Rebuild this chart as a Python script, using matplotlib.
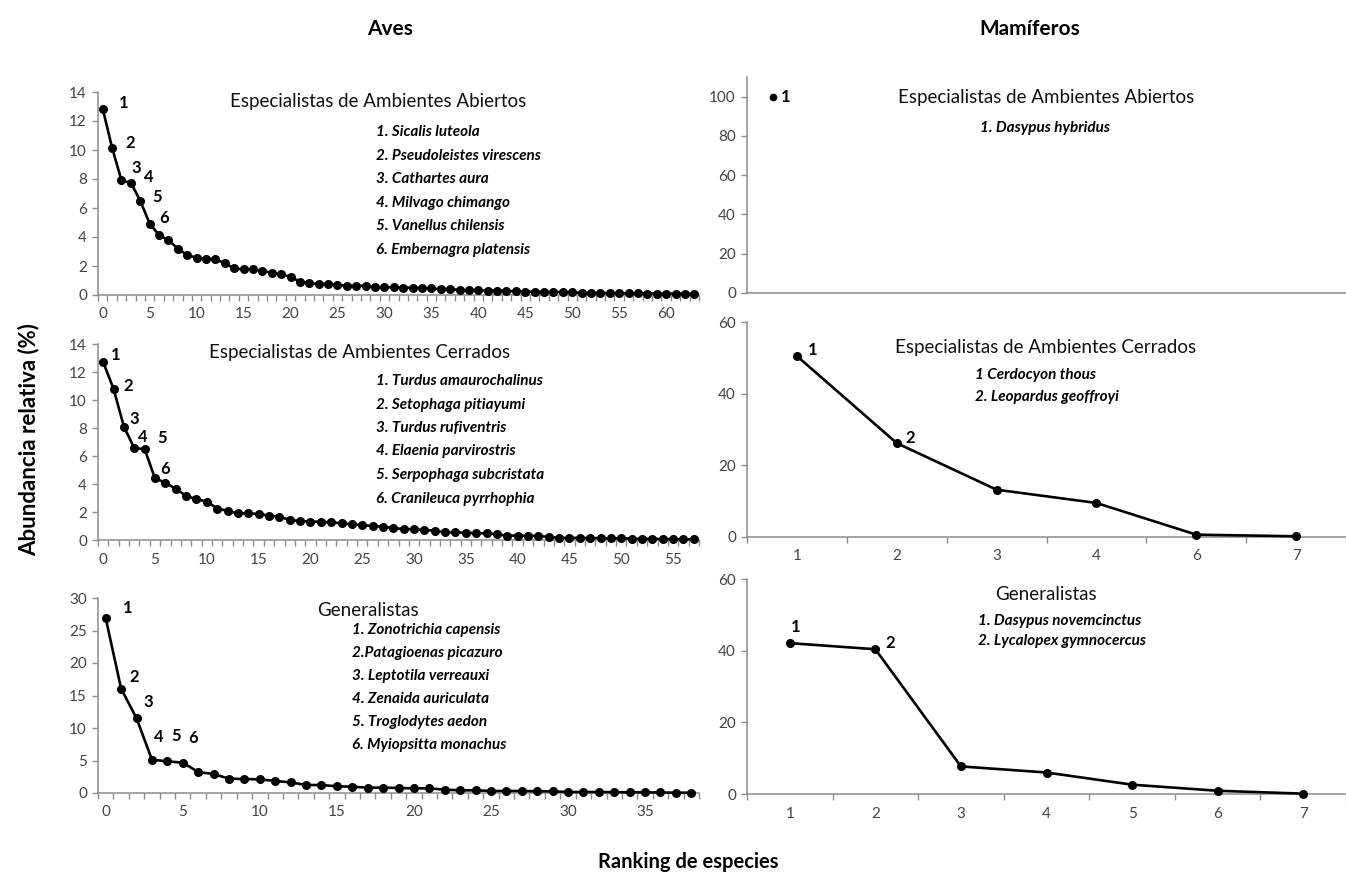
import matplotlib.pyplot as plt
import numpy as np

plt.rcParams['font.family'] = ['Lato', 'DejaVu Sans']

W, H = 1346, 882

# ── data ──────────────────────────────────────────────────────────────────────
aves_abiertos = [12.85, 10.16, 7.9, 7.73, 6.5, 4.93, 4.13, 3.78, 3.2, 2.75,
                 2.57, 2.48, 2.48, 2.18, 1.83, 1.77, 1.77, 1.65, 1.54, 1.42,
                 1.26, 0.92, 0.8, 0.76, 0.76, 0.69, 0.64, 0.64, 0.64, 0.53,
                 0.53, 0.53, 0.5, 0.5, 0.48, 0.45, 0.41, 0.41, 0.35, 0.34,
                 0.33, 0.3, 0.3, 0.27, 0.25, 0.24, 0.22, 0.22, 0.22, 0.2,
                 0.18, 0.15, 0.14, 0.13, 0.13, 0.12, 0.12, 0.11, 0.1, 0.1,
                 0.1, 0.09, 0.09, 0.08]
aves_cerrados = [12.7, 10.8, 8.1, 6.56, 6.5, 4.4, 4.1, 3.65, 3.17, 2.9,
                 2.75, 2.25, 2.08, 1.9, 1.9, 1.86, 1.74, 1.67, 1.43, 1.36,
                 1.31, 1.31, 1.26, 1.19, 1.12, 1.07, 1.0, 0.95, 0.84, 0.79,
                 0.76, 0.72, 0.67, 0.55, 0.55, 0.52, 0.48, 0.48, 0.41, 0.31,
                 0.31, 0.29, 0.29, 0.22, 0.15, 0.15, 0.15, 0.14, 0.13, 0.12,
                 0.12, 0.1, 0.08, 0.08, 0.07, 0.06, 0.05, 0.05]
aves_generalistas = [26.9, 16.05, 11.5, 5.13, 4.87, 4.67, 3.23, 2.92, 2.2, 2.15,
                     2.1, 1.85, 1.64, 1.23, 1.23, 1.03, 0.97, 0.82, 0.82, 0.77,
                     0.72, 0.72, 0.51, 0.41, 0.41, 0.31, 0.31, 0.31, 0.26, 0.26,
                     0.15, 0.15, 0.15, 0.12, 0.1, 0.1, 0.08, 0.05, 0.05]

mam_abiertos_x = [1]
mam_abiertos = [100]
mam_cerrados_cats = ['1', '2', '3', '4', '6', '7']
mam_cerrados = [50.5, 26.2, 13.2, 9.5, 0.65, 0.2]
mam_gen_cats = ['1', '2', '3', '4', '5', '6', '7']
mam_generalistas = [42.1, 40.4, 7.7, 6.0, 2.6, 0.9, 0.1]

sp_aves_abiertos = ['1. Sicalis luteola', '2. Pseudoleistes virescens', '3. Cathartes aura',
                    '4. Milvago chimango', '5. Vanellus chilensis', '6. Embernagra platensis']
sp_aves_cerrados = ['1. Turdus amaurochalinus', '2. Setophaga pitiayumi', '3. Turdus rufiventris',
                    '4. Elaenia parvirostris', '5. Serpophaga subcristata', '6. Cranileuca pyrrhophia']
sp_aves_gen = ['1. Zonotrichia capensis', '2.Patagioenas picazuro', '3. Leptotila verreauxi',
               '4. Zenaida auriculata', '5. Troglodytes aedon', '6. Myiopsitta monachus']
sp_mam_abiertos = ['1. Dasypus hybridus']
sp_mam_cerrados = ['1 Cerdocyon thous', '2. Leopardus geoffroyi']
sp_mam_gen = ['1. Dasypus novemcinctus', '2. Lycalopex gymnocercus']

GRAY = '#8c8c8c'
TXT = '#444444'


def box(l, t, r, b):
    return [l / W, 1 - b / H, (r - l) / W, (b - t) / H]


def put(x, y, s, **kw):
    fig.text(x / W, 1 - y / H, s, **kw)


def style(ax):
    ax.set_facecolor('none')
    for s in ['top', 'right']:
        ax.spines[s].set_visible(False)
    for s in ['left', 'bottom']:
        ax.spines[s].set_color(GRAY)
        ax.spines[s].set_linewidth(1.1)
    ax.tick_params(axis='y', direction='out', length=4, width=1, color=GRAY,
                   labelcolor=TXT, labelsize=11, pad=4)
    ax.tick_params(axis='x', which='major', length=0, labelcolor=TXT, labelsize=11, pad=9)
    ax.tick_params(axis='x', which='minor', direction='out', length=4, width=1, color=GRAY)


def rank_panel(ax, vals, ymax, ystep):
    n = len(vals)
    x = np.arange(n)
    ax.plot(x, vals, color='black', lw=1.9, marker='o', ms=5.5, clip_on=False, zorder=3)
    ax.set_xlim(-0.5, n - 0.5)
    ax.set_ylim(0, ymax)
    ax.set_yticks(np.arange(0, ymax + 0.01, ystep))
    ax.set_xticks(np.arange(0, n, 5))
    ax.set_xticks(np.arange(-0.5, n, 1), minor=True)
    style(ax)
    return x


def cat_panel(ax, cats, vals):
    x = np.arange(len(cats))
    ax.plot(x, vals, color='black', lw=1.9, marker='o', ms=5.5, clip_on=False, zorder=3)
    ax.set_xlim(-0.5, len(cats) - 0.5)
    ax.set_ylim(0, 60)
    ax.set_yticks([0, 20, 40, 60])
    ax.set_xticks(x)
    ax.set_xticklabels(cats)
    ax.set_xticks(np.arange(-0.5, len(cats), 1), minor=True)
    style(ax)
    return x


def numbers(ax, x, vals, offsets):
    for i, (dx, dy) in enumerate(offsets):
        ax.annotate(str(i + 1), (x[i], vals[i]), xytext=(dx, dy), textcoords='offset pixels',
                    ha='center', va='center', fontsize=12, fontweight='bold', color='black')


def species(x, y0, names, step):
    for i, s in enumerate(names):
        put(x, y0 + i * step, s, fontsize=11, fontweight='bold', fontstyle='italic',
            va='center', ha='left', color='black')


fig = plt.figure(figsize=(W / 100, H / 100), dpi=100)

# ── Aves ──────────────────────────────────────────────────────────────────────
ax1 = fig.add_axes(box(98, 92, 699, 295))
x1 = rank_panel(ax1, aves_abiertos, 14, 2)
numbers(ax1, x1, aves_abiertos, [(21, 6), (18, 5), (15, 12), (18, 6), (17, 4), (14, 6)])

ax2 = fig.add_axes(box(98, 344, 699, 540))
x2 = rank_panel(ax2, aves_cerrados, 14, 2)
numbers(ax2, x2, aves_cerrados, [(12, 7), (15, 3), (10, 8), (9, 11), (17, 11), (10, 9)])

ax3 = fig.add_axes(box(98, 598, 699, 793))
x3 = rank_panel(ax3, aves_generalistas, 30, 5)
numbers(ax3, x3, aves_generalistas, [(22, 10), (13, 12), (12, 16), (7, 23), (9, 25), (10, 25)])

# ── Mamíferos ─────────────────────────────────────────────────────────────────
ax4 = fig.add_axes(box(747, 77, 1346, 293))
ax4.plot(mam_abiertos_x, mam_abiertos, color='black', marker='o', ms=4.5, lw=0, zorder=3)
ax4.set_xlim(0, 23)
ax4.set_ylim(0, 110)
ax4.set_yticks(np.arange(0, 101, 20))
ax4.set_xticks([])
style(ax4)
ax4.annotate('1', (mam_abiertos_x[0], mam_abiertos[0]), xytext=(13, 0), textcoords='offset pixels',
             ha='center', va='center', fontsize=12, fontweight='bold')

ax5 = fig.add_axes(box(747, 322, 1346, 537))
x5 = cat_panel(ax5, mam_cerrados_cats, mam_cerrados)
numbers(ax5, x5, mam_cerrados, [(16, 6), (13, 5)])

ax6 = fig.add_axes(box(747, 579, 1346, 794))
x6 = cat_panel(ax6, mam_gen_cats, mam_generalistas)
numbers(ax6, x6, mam_generalistas, [(6, 16), (15, 6)])

# ── panel titles and species lists ────────────────────────────────────────────
title_kw = dict(fontsize=13.5, ha='center', va='center', color='#111111')
put(378, 101, 'Especialistas de Ambientes Abiertos', **title_kw)
species(376, 132, sp_aves_abiertos, 23.5)
put(360, 352, 'Especialistas de Ambientes Cerrados', **title_kw)
species(376, 381, sp_aves_cerrados, 23.5)
put(368, 611, 'Generalistas', **title_kw)
species(352, 630, sp_aves_gen, 23)

put(1046, 98, 'Especialistas de Ambientes Abiertos', **title_kw)
put(1045, 128, sp_mam_abiertos[0], fontsize=11, fontweight='bold', fontstyle='italic',
    ha='center', va='center', color='black')
put(1046, 347, 'Especialistas de Ambientes Cerrados', **title_kw)
species(975, 375, sp_mam_cerrados, 22)
put(1046, 595, 'Generalistas', **title_kw)
species(978, 621, sp_mam_gen, 20)

# ── headers and axis labels ───────────────────────────────────────────────────
put(390, 29, 'Aves', fontsize=15, fontweight='bold', ha='center', va='center')
put(1030, 29, 'Mamíferos', fontsize=15, fontweight='bold', ha='center', va='center')
put(29, 440, 'Abundancia relativa (%)', fontsize=16, fontweight='bold', ha='center', va='center',
    rotation=90)
put(688, 862, 'Ranking de especies', fontsize=14.5, fontweight='bold', ha='center', va='center')

fig.savefig('out.png', dpi=100)
